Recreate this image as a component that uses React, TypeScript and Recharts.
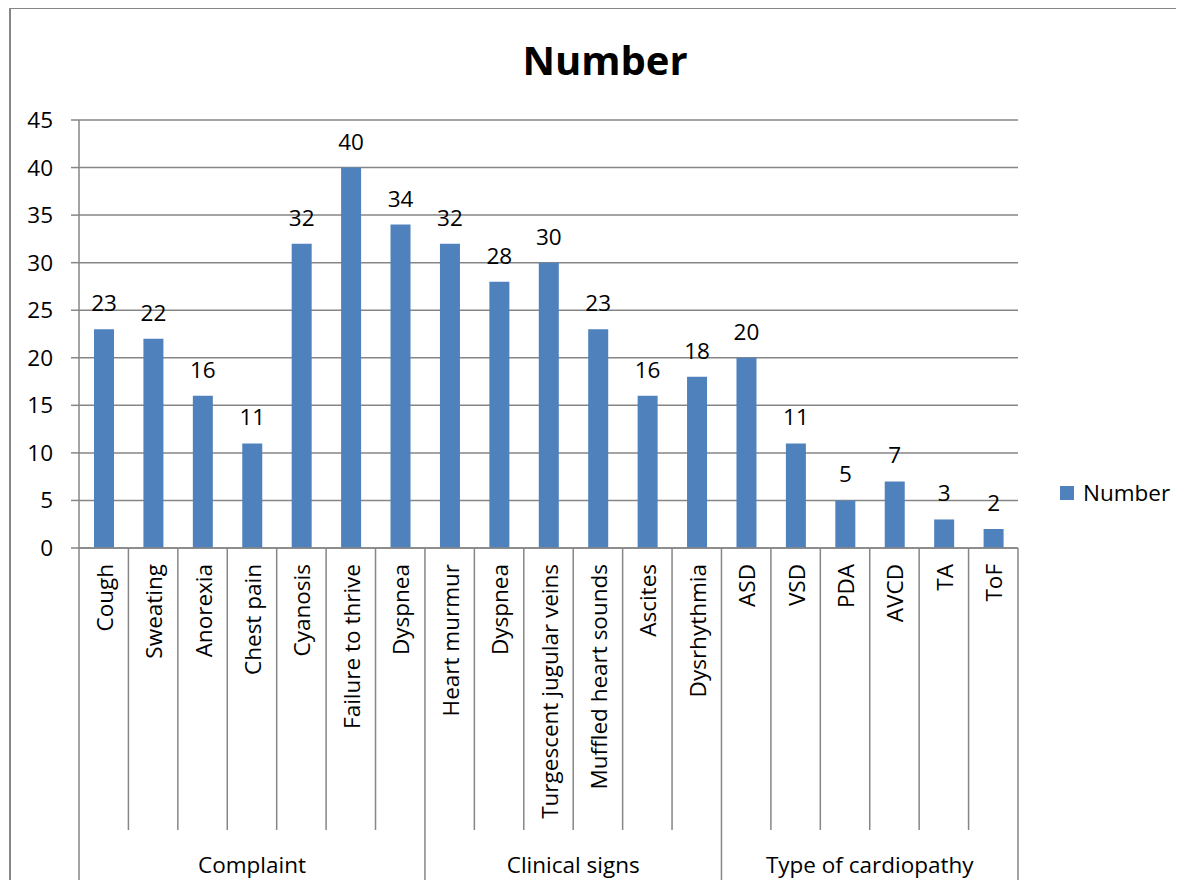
import React from 'react'
import { BarChart, Bar, XAxis, YAxis, CartesianGrid, LabelList } from 'recharts'

const categories = [
  'Cough', 'Sweating', 'Anorexia', 'Chest pain', 'Cyanosis', 'Failure to thrive', 'Dyspnea',
  'Heart murmur', 'Dyspnea', 'Turgescent jugular veins', 'Muffled heart sounds', 'Ascites', 'Dysrhythmia',
  'ASD', 'VSD', 'PDA', 'AVCD', 'TA', 'ToF',
]
const numbers = [23, 22, 16, 11, 32, 40, 34, 32, 28, 30, 23, 16, 18, 20, 11, 5, 7, 3, 2]
const groups = ['Complaint', 'Clinical signs', 'Type of cardiopathy']
const groupSizes = [7, 6, 6]
const yTicks = [0, 5, 10, 15, 20, 25, 30, 35, 40, 45]

const data = categories.map((name, i) => ({ key: `${i}`, name, Number: numbers[i] }))

const FONT = '"Open Sans", sans-serif'
const FS = 22.5
const GRID = '#868686'
const BLUE = '#4F81BD'
const W = 1184
const H = 888
const M = { top: 120, right: 166, left: 0, bottom: 0 }
const Y_W = 79
const X_H = 340
const AXIS_Y = H - X_H
const HALF = (W - M.right - Y_W) / categories.length / 2

// index where each group starts
const groupStarts = groupSizes.map((_, g) => groupSizes.slice(0, g).reduce((a, b) => a + b, 0))

function CategoryTick(props: any) {
  const { x, index } = props
  const left = x - HALF
  const startG = groupStarts.indexOf(index)
  const isLast = index === categories.length - 1
  return (
    <g>
      <line x1={left} y1={AXIS_Y} x2={left} y2={startG >= 0 ? 881 : 830} stroke={GRID} strokeWidth={1.5} />
      {isLast && <line x1={x + HALF} y1={AXIS_Y} x2={x + HALF} y2={881} stroke={GRID} strokeWidth={1.5} />}
      <text
        transform={`translate(${x + 9},${564}) rotate(-90)`}
        textAnchor="end"
        fontSize={FS}
        fontFamily={FONT}
        fill="#000"
      >
        {categories[index]}
      </text>
      {startG >= 0 && (
        <text
          x={left + HALF * groupSizes[startG]}
          y={873}
          textAnchor="middle"
          fontSize={FS}
          fontFamily={FONT}
          fill="#000"
        >
          {groups[startG]}
        </text>
      )}
    </g>
  )
}

export default function App() {
  return (
    <div style={{ position: 'relative', margin: -8, width: W, height: H, overflow: 'hidden', background: '#fff' }}>
      {/* caption sits above the frame and is clipped at the page top, as in the source */}
      <div
        style={{
          position: 'absolute', left: 0, top: -9, fontFamily: '"Liberation Serif", serif',
          fontWeight: 'bold', fontSize: 15, whiteSpace: 'nowrap', lineHeight: '16px',
        }}
      >
        Graph 1 Assessment of parameters
      </div>
      <div
        style={{
          position: 'absolute', left: 9, top: 7, width: 1200, height: 900,
          border: `2px solid ${GRID}`, boxSizing: 'border-box',
        }}
      />
      <div
        style={{
          position: 'absolute', left: 405, width: 400, top: 32, textAlign: 'center',
          fontFamily: FONT, fontWeight: 'bold', fontSize: 40,
        }}
      >
        Number
      </div>
      <div style={{ position: 'absolute', left: 0, top: 0 }}>
        <BarChart width={W} height={H} data={data} margin={M} barSize={20}>
          <CartesianGrid vertical={false} stroke={GRID} strokeWidth={1.5} />
          <XAxis
            dataKey="key"
            height={X_H}
            interval={0}
            axisLine={{ stroke: GRID, strokeWidth: 1.5 }}
            tickLine={false}
            tick={<CategoryTick />}
          />
          <YAxis
            width={Y_W}
            domain={[0, 45]}
            ticks={yTicks}
            interval={0}
            axisLine={{ stroke: GRID, strokeWidth: 1.5 }}
            tickLine={{ stroke: GRID, strokeWidth: 1.5 }}
            tickSize={8}
            tickMargin={18}
            tick={{ fill: '#000', fontSize: FS, fontFamily: FONT }}
          />
          <Bar dataKey="Number" fill={BLUE} isAnimationActive={false}>
            <LabelList dataKey="Number" position="top" offset={18} fill="#000" fontSize={FS} fontFamily={FONT} />
          </Bar>
        </BarChart>
      </div>
      <div
        style={{
          position: 'absolute', left: 1060, top: 478, display: 'flex', alignItems: 'center',
          fontFamily: FONT, fontSize: FS, color: '#000', lineHeight: '30px',
        }}
      >
        <span style={{ display: 'inline-block', width: 14, height: 14, background: BLUE, marginRight: 9 }} />
        Number
      </div>
    </div>
  )
}
